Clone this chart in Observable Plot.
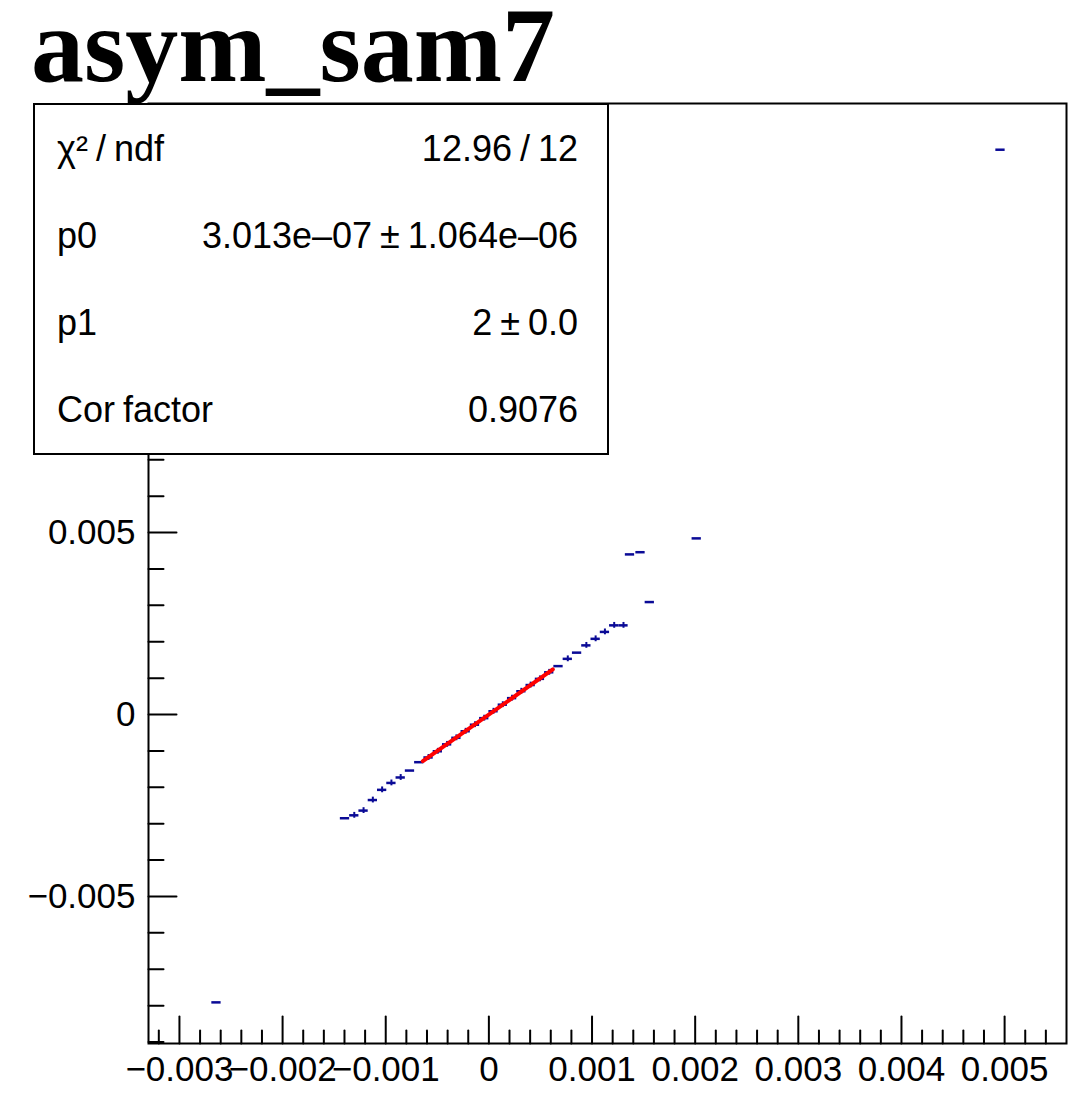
<!DOCTYPE html>
<html><head><meta charset="utf-8">
<script src="https://cdn.jsdelivr.net/npm/d3@7"></script>
<script src="https://cdn.jsdelivr.net/npm/@observablehq/plot@0.6"></script>
<style>
body{margin:0;background:#fff;}
#wrap{position:relative;width:1088px;height:1100px;overflow:hidden;background:#fff}
#title{position:absolute;z-index:3;left:31px;top:0px;height:106px;font:bold 106px "Liberation Serif","Times New Roman",serif;line-height:92px;color:#000;white-space:nowrap}
#chart{position:absolute;z-index:1;left:0;top:95px}
#stats{position:absolute;z-index:2;left:33px;top:103px;width:572px;height:348px;border:2px solid #000;background:#fff;font:36px "Liberation Sans",Arial,sans-serif;color:#000;word-spacing:-2px}
.row{display:flex;justify-content:space-between;align-items:center;height:87px;padding:0 29px 0 22px;white-space:nowrap}
</style></head>
<body>
<div id="wrap">
  <div id="title">asym_sam7</div>
  <div id="chart"></div>
  <div id="stats"></div>
</div>
<script>
// ---- data ----
const binX = [-0.002641, -0.001395, -0.001305, -0.001215, -0.001125, -0.001035, -0.000945, -0.000855, -0.000765, -0.000675,
  -0.000585, -0.000495, -0.000405, -0.000315, -0.000225, -0.000135, -0.000045, 0.000045, 0.000135, 0.000225,
  0.000315, 0.000405, 0.000495, 0.000585, 0.000675, 0.000765, 0.000855, 0.000945, 0.001035, 0.001125,
  0.001215, 0.001305, 0.001368, 0.001470, 0.001560, 0.002015, 0.004960];
const binY = [-0.00791, -0.00285, -0.00277, -0.00264, -0.00235, -0.00207, -0.00188, -0.00173, -0.00154, -0.00131,
  -0.00118, -0.00101, -0.00082, -0.00064, -0.00046, -0.00028, -0.00010, 0.00009, 0.00027, 0.00045,
  0.00064, 0.00081, 0.00098, 0.00116, 0.00133, 0.00153, 0.00170, 0.00190, 0.00208, 0.00227,
  0.00245, 0.00245, 0.00440, 0.00446, 0.00309, 0.00484, 0.01552];
const binYErr = [0, 0, 0.00008, 0.00008, 0.00008, 0.00008, 0.00008, 0.00008, 0, 0,
  0.00008, 0.00008, 0.00008, 0.00008, 0.00008, 0.00008, 0.00008, 0.00008, 0.00008, 0.00008,
  0.00008, 0.00008, 0.00008, 0.00008, 0, 0.00008, 0, 0.00008, 0.00008, 0.00008,
  0.00008, 0.00008, 0, 0, 0, 0, 0];
const binHalfWidth = 0.000045;

// fit (pol1) parameters and range
const fitP0 = 3.013e-07;
const fitP1 = 2;
const fitRange = [-0.00064, 0.00062];

// axes
const xDomain = [-0.0033, 0.0056];
const yDomain = [-0.00904, 0.01679];
const xMajorTicks = [-0.003, -0.002, -0.001, 0, 0.001, 0.002, 0.003, 0.004, 0.005];
const yMajorTicks = [-0.005, 0, 0.005, 0.01, 0.015];
const yLabelTicks = [-0.005, 0, 0.005];   // 0.01 and 0.015 are hidden behind the stats box
const xMinorTicks = d3.range(-16, 28).map(i => i * 0.0002).filter(v => Math.abs(Math.round(v * 1000) - v * 1000) > 1e-6);
const yMinorTicks = d3.range(-9, 17).map(i => i * 0.001).filter(v => Math.abs(Math.round(v * 200) - v * 200) > 1e-6);

// stats box
const statLabels = ['χ² / ndf', 'p0', 'p1', 'Cor factor'];
const statValues = ['12.96 / 12', '3.013e–07 ± 1.064e–06', '2 ± 0.0', '0.9076'];

// ---- build ----
const points = binX.map((x, i) => ({x, y: binY[i], ex: binHalfWidth, ey: binYErr[i]}));
const fitLine = fitRange.map(x => ({x, y: fitP0 + fitP1 * x}));
const blue = "#0a0a96";
const fmt = d3.format(".3~f");
const lineShape = {draw(context, l) { context.moveTo(0, 0); context.lineTo(0, -l); }};

const chart = Plot.plot({
  width: 1088, height: 1005,
  marginLeft: 148, marginRight: 22, marginTop: 8, marginBottom: 57,
  style: {fontFamily: '"Liberation Sans", Arial, sans-serif', fontSize: "35px", background: "transparent", color: "black", overflow: "visible"},
  x: {domain: xDomain},
  y: {domain: yDomain},
  marks: [
    Plot.axisX(xMajorTicks, {tickSize: 0, tickPadding: 13, fontSize: 35, tickFormat: fmt, label: null}),
    Plot.axisY(yLabelTicks, {tickSize: 0, tickPadding: 13, fontSize: 35, tickFormat: fmt, label: null}),
    Plot.vector(xMajorTicks, {x: d => d, y: () => yDomain[0], length: 27, anchor: "start", shape: lineShape, stroke: "black", strokeWidth: 2}),
    Plot.vector(xMinorTicks, {x: d => d, y: () => yDomain[0], length: 13, anchor: "start", shape: lineShape, stroke: "black", strokeWidth: 2}),
    Plot.vector(yMajorTicks, {x: () => xDomain[0], y: d => d, length: 28, rotate: 90, anchor: "start", shape: lineShape, stroke: "black", strokeWidth: 2}),
    Plot.vector(yMinorTicks, {x: () => xDomain[0], y: d => d, length: 15, rotate: 90, anchor: "start", shape: lineShape, stroke: "black", strokeWidth: 2}),
    Plot.ruleY(points, {y: "y", x1: d => d.x - d.ex, x2: d => d.x + d.ex, stroke: blue, strokeWidth: 2.5}),
    Plot.ruleX(points.filter(d => d.ey > 0), {x: "x", y1: d => d.y - d.ey, y2: d => d.y + d.ey, stroke: blue, strokeWidth: 2}),
    Plot.line(fitLine, {x: "x", y: "y", stroke: "#ff0000", strokeWidth: 4}),
    Plot.frame({stroke: "black", strokeWidth: 2})
  ]
});
document.getElementById("chart").appendChild(chart);

const stats = document.getElementById("stats");
statLabels.forEach((lab, i) => {
  const row = document.createElement("div");
  row.className = "row";
  const a = document.createElement("span"); a.textContent = lab;
  const b = document.createElement("span"); b.textContent = statValues[i];
  row.appendChild(a); row.appendChild(b);
  stats.appendChild(row);
});
</script>
</body></html>
